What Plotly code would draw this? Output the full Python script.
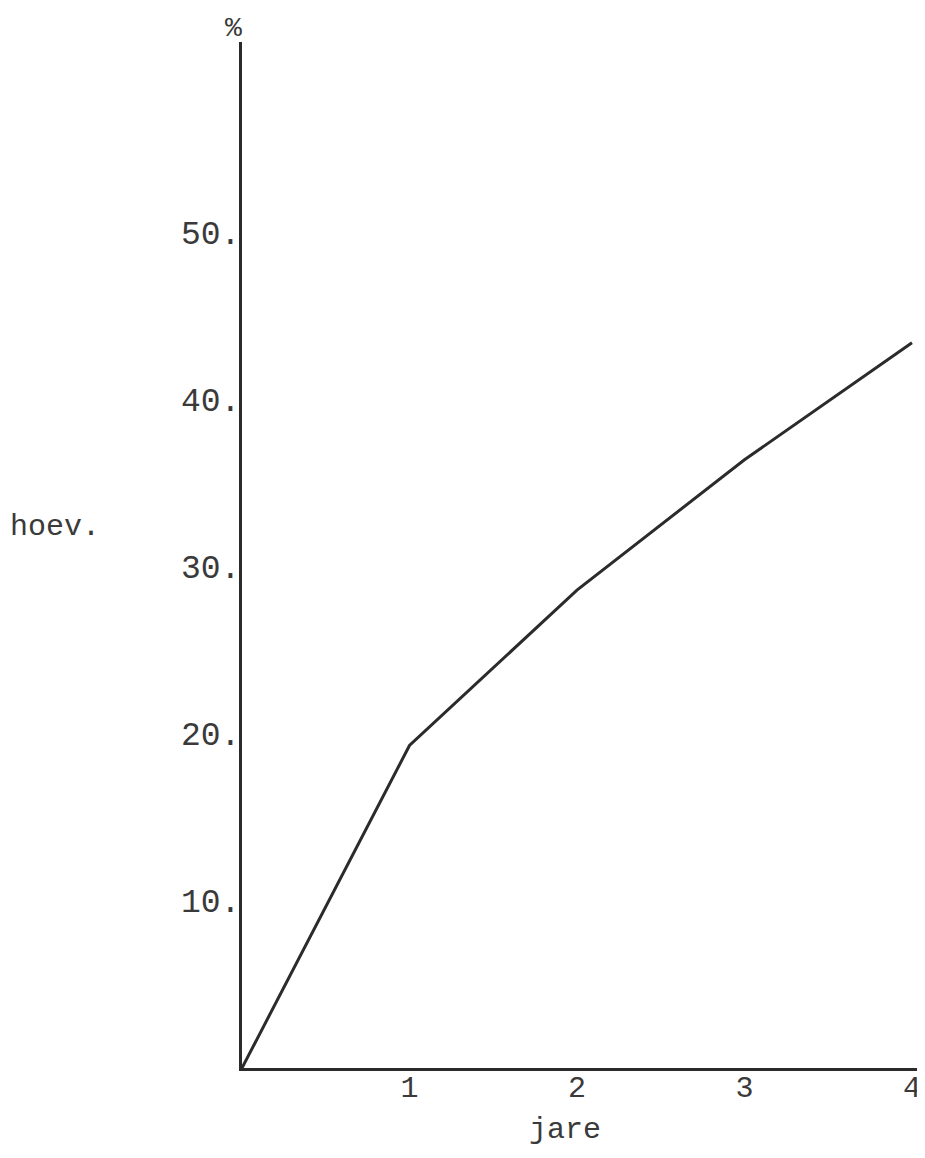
import plotly.graph_objects as go

# Data
jare = [0, 1, 2, 3, 4]
hoev = [0, 19.3, 28.6, 36.4, 43.4]
y_tick_vals = [10, 20, 30, 40, 50]
y_tick_text = ["10.", "20.", "30.", "40.", "50."]
x_tick_vals = [1, 2, 3, 4]
x_tick_text = ["1", "2", "3", "4"]

ink = "#2b2b2b"
txt = "#3a3a3a"
font = "Liberation Mono, Courier New, monospace"

fig = go.Figure()
fig.add_trace(go.Scatter(
    x=jare, y=hoev, mode="lines",
    line=dict(color=ink, width=3),
    hoverinfo="skip", showlegend=False,
))

fig.update_layout(
    width=925, height=1158,
    margin=dict(l=234, r=14, t=34, b=98),
    paper_bgcolor="white", plot_bgcolor="white",
    font=dict(family=font, size=30, color=txt),
    xaxis=dict(
        range=[0, 4.042], showgrid=False, zeroline=False,
        showline=True, linecolor=ink, linewidth=3,
        tickvals=x_tick_vals, ticktext=x_tick_text,
        ticks="", ticklabelstandoff=-10, fixedrange=True,
    ),
    yaxis=dict(
        range=[0, 61.4], showgrid=False, zeroline=False,
        showline=True, linecolor=ink, linewidth=3,
        tickvals=y_tick_vals, ticktext=y_tick_text,
        ticks="", ticklabelstandoff=-8, fixedrange=True,
        tickfont=dict(family=font, size=33, color=txt),
    ),
    annotations=[
        dict(text="%", xref="paper", yref="paper", x=0, y=1,
             xanchor="center", yanchor="middle", xshift=-9, yshift=14,
             showarrow=False, font=dict(family=font, size=28, color=txt)),
        dict(text="hoev.", xref="paper", yref="paper", x=0, y=0.527,
             xanchor="left", yanchor="middle", xshift=-234,
             showarrow=False, font=dict(family=font, size=30, color=txt)),
        dict(text="jare", xref="paper", yref="paper", x=0.477, y=0,
             xanchor="center", yanchor="middle", yshift=-62,
             showarrow=False, font=dict(family=font, size=30, color=txt)),
    ],
)

fig.write_html("out.html")
